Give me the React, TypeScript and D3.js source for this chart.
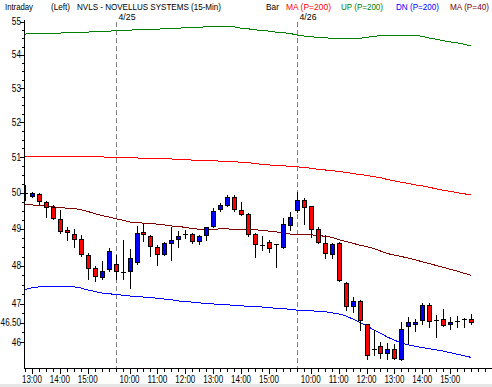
import React from 'react';
import * as d3 from 'd3';

// trading sessions (15-min bars)
const sessions = [
  { date: '4/24', start: '12:45', bars: 13 },
  { date: '4/25', start: '9:30', bars: 26 },
  { date: '4/26', start: '9:30', bars: 26 },
];

const openP = [
  50.0, 49.92, 49.96, 49.74, 49.61, 49.28, 48.97, 48.86, 48.72, 48.3, 47.93, 47.71, 47.91,
  48.06, 47.84, 47.85, 48.11, 48.92, 48.8, 48.51, 48.33, 48.61, 48.72, 48.85, 48.86, 48.66, 48.83,
  49.08, 49.54, 49.66, 49.89, 49.52, 49.4, 48.85, 48.56, 48.63, 48.58, 48.51, 49.12,
  49.52, 49.8, 49.63, 48.99, 48.61, 48.33, 48.61, 47.53, 46.94, 47.07, 46.48, 45.82, 45.89,
  45.72, 45.82, 45.56, 46.42, 46.47, 46.57, 46.96, 46.57, 46.59, 46.46, 46.54, 46.59, 46.61,
];
const highP = [
  50.22, 50.01, 49.99, 49.77, 49.66, 49.52, 49.04, 48.99, 48.83, 48.35, 48.0, 48.13, 48.48,
  48.3, 48.7, 48.45, 49.08, 49.17, 48.83, 48.56, 48.65, 49.06, 48.93, 48.97, 48.9, 48.83, 49.06,
  49.57, 49.7, 49.94, 49.94, 49.75, 49.43, 48.9, 48.8, 48.7, 48.6, 49.29, 49.47,
  50.03, 49.85, 49.63, 49.06, 48.83, 48.61, 48.63, 47.58, 47.17, 47.09, 46.48, 46.31, 46.0,
  45.98, 45.95, 46.53, 46.64, 46.6, 47.02, 47.02, 46.7, 46.85, 46.66, 46.67, 46.63, 46.73,
];
const lowP = [
  49.8, 49.89, 49.69, 49.33, 49.26, 48.9, 48.7, 48.52, 48.26, 47.64, 47.6, 47.64, 47.85,
  47.66, 47.66, 47.4, 48.06, 48.68, 48.26, 48.02, 48.29, 48.15, 48.52, 48.74, 48.61, 48.59, 48.7,
  49.06, 49.5, 49.62, 49.5, 49.38, 48.8, 48.24, 48.42, 48.38, 47.98, 48.47, 48.97,
  49.47, 49.14, 48.79, 48.61, 48.2, 48.2, 47.6, 46.83, 46.77, 46.31, 45.56, 45.67, 45.59,
  45.56, 45.56, 45.54, 45.97, 46.28, 46.48, 46.39, 46.12, 46.42, 46.33, 46.4, 46.4, 46.47,
];
const closeP = [
  50.0, 49.99, 49.77, 49.6, 49.31, 48.95, 48.91, 48.72, 48.33, 47.94, 47.73, 47.86, 48.4,
  47.86, 47.84, 48.2, 48.9, 48.85, 48.53, 48.33, 48.61, 48.7, 48.8, 48.85, 48.66, 48.8, 49.04,
  49.5, 49.66, 49.89, 49.54, 49.4, 48.86, 48.58, 48.56, 48.47, 48.58, 49.14, 49.34,
  49.8, 49.61, 48.99, 48.63, 48.35, 48.58, 47.63, 46.94, 47.07, 46.57, 45.67, 45.82, 45.72,
  45.82, 45.59, 46.35, 46.53, 46.53, 46.96, 46.55, 46.57, 46.44, 46.52, 46.54, 46.59, 46.51,
];

// MA (P=200)
const maLong = [
  51.01, 51.01, 51.02, 51.02, 51.02, 51.02, 51.02, 51.02, 51.02, 51.01, 51.01, 51.01, 51.0,
  50.99, 50.99, 50.98, 50.98, 50.97, 50.97, 50.96, 50.95, 50.95, 50.94, 50.93, 50.92, 50.91, 50.91,
  50.9, 50.89, 50.88, 50.87, 50.86, 50.85, 50.82, 50.8, 50.78, 50.77, 50.76, 50.74,
  50.73, 50.71, 50.69, 50.66, 50.64, 50.62, 50.6, 50.57, 50.54, 50.51, 50.49, 50.45, 50.42,
  50.37, 50.33, 50.29, 50.26, 50.22, 50.19, 50.15, 50.11, 50.07, 50.04, 50.0, 49.97, 49.94,
];
// UP (P=200)
const upBand = [
  54.63, 54.64, 54.64, 54.65, 54.66, 54.66, 54.67, 54.68, 54.69, 54.69, 54.7, 54.71, 54.72,
  54.73, 54.74, 54.75, 54.76, 54.77, 54.78, 54.78, 54.79, 54.81, 54.81, 54.82, 54.84, 54.84, 54.85,
  54.85, 54.85, 54.85, 54.85, 54.81, 54.79, 54.76, 54.74, 54.72, 54.69, 54.67, 54.65,
  54.6, 54.57, 54.55, 54.53, 54.52, 54.5, 54.5, 54.5, 54.5, 54.5, 54.53, 54.56, 54.58,
  54.6, 54.6, 54.6, 54.6, 54.59, 54.56, 54.51, 54.47, 54.43, 54.39, 54.36, 54.32, 54.27,
];
// DN (P=200)
const dnBand = [
  47.37, 47.42, 47.44, 47.45, 47.45, 47.45, 47.45, 47.44, 47.41, 47.36, 47.32, 47.28, 47.26,
  47.24, 47.22, 47.2, 47.19, 47.17, 47.16, 47.14, 47.12, 47.1, 47.07, 47.05, 47.04, 47.02, 47.0,
  46.99, 46.98, 46.97, 46.95, 46.94, 46.93, 46.92, 46.91, 46.89, 46.88, 46.87, 46.85,
  46.83, 46.82, 46.81, 46.8, 46.79, 46.76, 46.73, 46.68, 46.6, 46.51, 46.42, 46.32, 46.23,
  46.13, 46.05, 45.98, 45.93, 45.89, 45.86, 45.83, 45.8, 45.77, 45.73, 45.69, 45.65, 45.61,
];
// MA (P=40)
const maShort = [
  49.68, 49.66, 49.65, 49.63, 49.61, 49.59, 49.57, 49.56, 49.53, 49.48, 49.42, 49.37, 49.33,
  49.28, 49.24, 49.19, 49.17, 49.16, 49.16, 49.13, 49.11, 49.08, 49.07, 49.04, 49.01, 48.99, 48.98,
  48.99, 49.0, 49.0, 48.99, 48.99, 48.99, 48.98, 48.96, 48.94, 48.92, 48.89, 48.86,
  48.86, 48.86, 48.84, 48.82, 48.8, 48.77, 48.71, 48.66, 48.61, 48.56, 48.52, 48.47, 48.4,
  48.33, 48.29, 48.25, 48.21, 48.16, 48.11, 48.06, 48.01, 47.96, 47.91, 47.86, 47.8, 47.75,
];

const yTicks = [55, 54, 53, 52, 51, 50, 49, 48, 47, 46.5, 46];
const yTickLabels = ['55', '54', '53', '52', '51', '50', '49', '48', '47', '46.50', '46'];

const W = 492;
const H = 387;
const TOP = 20;
const BOTTOM = 368;
const AXIS_X = 24;
const FONT = '"Liberation Sans", Arial, sans-serif';

type Bar = { hh: number; mm: number; session: number; first: boolean };
const bars: Bar[] = [];
sessions.forEach((s, si) => {
  const [h, m] = s.start.split(':').map(Number);
  for (let k = 0; k < s.bars; k++) {
    const t = h * 60 + m + 15 * k;
    bars.push({ hh: Math.floor(t / 60), mm: t % 60, session: si, first: k === 0 });
  }
});

// narrow bitmap-like label widths
const labelWidth = (s: string) =>
  s.split('').reduce((w, ch) => w + (ch === '.' || ch === ':' ? 2 : 4.6), 0);

const App: React.FC = () => {
  const x = d3.scaleLinear().domain([0, 66]).range([25, 25 + 66 * 6.97]);
  const y = d3.scaleLog().domain([45.34, 55.06]).range([BOTTOM, TOP]);

  const line = d3
    .line<number>()
    .x((_, i) => x(i))
    .y((d) => y(d));

  const minorY = d3.range(46, 55.01, 0.25).filter((v) => !yTicks.includes(v));
  const xTickIdx = d3.range(0, 67);

  const seps = bars.map((b, i) => ({ ...b, i })).filter((b) => b.first && b.session > 0);
  const hourLabels = bars
    .map((b, i) => ({ ...b, i }))
    .filter((b) => b.mm === 0 && b.hh >= 10);

  const header = [
    { t: 'Intraday', x: 5, w: 28, c: '#000' },
    { t: '(Left)', x: 51, w: 19, c: '#000' },
    { t: 'NVLS - NOVELLUS SYSTEMS  (15-Min)', x: 77, w: 144, c: '#000' },
    { t: 'Bar', x: 266, w: 13, c: '#000' },
    { t: 'MA (P=200)', x: 286, w: 45, c: '#ff0000' },
    { t: 'UP (P=200)', x: 341, w: 42, c: '#008000' },
    { t: 'DN (P=200)', x: 396, w: 43, c: '#0000ff' },
    { t: 'MA (P=40)', x: 450, w: 39, c: '#800000' },
  ];

  return (
    <svg
      width={W}
      height={H}
      style={{ position: 'absolute', left: 0, top: 0, background: '#fff' }}
      fontFamily={FONT}
    >
      <rect x={0} y={0} width={W} height={H} fill="#fff" />

      {/* header */}
      <g fontSize={9}>
        {header.map((h) => (
          <text key={h.t} x={h.x} y={9.5} fill={h.c} textLength={h.w} lengthAdjust="spacingAndGlyphs">
            {h.t}
          </text>
        ))}
      </g>

      {/* day separators */}
      {seps.map((s) => {
        const px = Math.round(x(s.i)) + 0.5;
        return (
          <g key={'sep' + s.i}>
            <line x1={px} x2={px} y1={TOP + 2} y2={BOTTOM} stroke="#808080" strokeDasharray="5,3" shapeRendering="crispEdges" />
            <text x={px + 2} y={19.5} fontSize={9} textLength={17} lengthAdjust="spacingAndGlyphs">
              {sessions[s.session].date}
            </text>
          </g>
        );
      })}

      {/* indicator lines */}
      <path d={line(upBand) || ''} fill="none" stroke="#008000" strokeWidth={1} shapeRendering="crispEdges" />
      <path d={line(maLong) || ''} fill="none" stroke="#ff0000" strokeWidth={1} shapeRendering="crispEdges" />
      <path d={line(maShort) || ''} fill="none" stroke="#800000" strokeWidth={1} shapeRendering="crispEdges" />
      <path d={line(dnBand) || ''} fill="none" stroke="#0000ff" strokeWidth={1} shapeRendering="crispEdges" />

      {/* candles */}
      <g shapeRendering="crispEdges">
        {openP.map((o, i) => {
          const c = closeP[i];
          const px = Math.round(x(i));
          const yTop = Math.round(y(Math.max(o, c)));
          const yBot = Math.round(y(Math.min(o, c)));
          return (
            <g key={'c' + i}>
              <line x1={px + 0.5} x2={px + 0.5} y1={Math.round(y(highP[i]))} y2={Math.round(y(lowP[i])) + 1} stroke="#000" />
              {yBot - yTop < 1 ? (
                <line x1={px - 2} x2={px + 3} y1={yTop + 0.5} y2={yTop + 0.5} stroke="#000" />
              ) : (
                <rect
                  x={px - 1.5}
                  y={yTop + 0.5}
                  width={4}
                  height={yBot - yTop}
                  fill={c > o ? '#0000ff' : '#ff0000'}
                  stroke="#000"
                />
              )}
            </g>
          );
        })}
      </g>

      {/* y axis */}
      <g shapeRendering="crispEdges" fontSize={10}>
        <line x1={AXIS_X + 0.5} x2={AXIS_X + 0.5} y1={TOP} y2={BOTTOM + 1} stroke="#000" />
        {minorY.map((v) => (
          <line key={'my' + v} x1={AXIS_X - 2} x2={AXIS_X} y1={Math.round(y(v)) + 0.5} y2={Math.round(y(v)) + 0.5} stroke="#000" />
        ))}
        {yTicks.map((v, k) => (
          <g key={'yt' + v}>
            <line x1={AXIS_X - 4} x2={AXIS_X} y1={Math.round(y(v)) + 0.5} y2={Math.round(y(v)) + 0.5} stroke="#000" />
            <text
              x={AXIS_X - 3}
              y={y(v)}
              dy="0.35em"
              textAnchor="end"
              textLength={labelWidth(yTickLabels[k])}
              lengthAdjust="spacingAndGlyphs"
            >
              {yTickLabels[k]}
            </text>
          </g>
        ))}
      </g>

      {/* x axis */}
      <g shapeRendering="crispEdges" fontSize={10}>
        <line x1={AXIS_X} x2={W} y1={BOTTOM + 0.5} y2={BOTTOM + 0.5} stroke="#000" />
        {xTickIdx.map((i) => {
          const b = bars[i];
          const long = b && b.mm === 0;
          const px = Math.round(x(i)) + 0.5;
          return <line key={'xt' + i} x1={px} x2={px} y1={BOTTOM} y2={BOTTOM + (long ? 6 : 4)} stroke="#000" />;
        })}
        {hourLabels.map((b) => (
          <text key={'hl' + b.i} x={x(b.i)} y={383} textAnchor="middle" textLength={20} lengthAdjust="spacingAndGlyphs">
            {`${b.hh}:00`}
          </text>
        ))}
      </g>

      <rect x={0} y={384} width={W} height={3} fill="#e6e6e6" />
    </svg>
  );
};

export default App;
